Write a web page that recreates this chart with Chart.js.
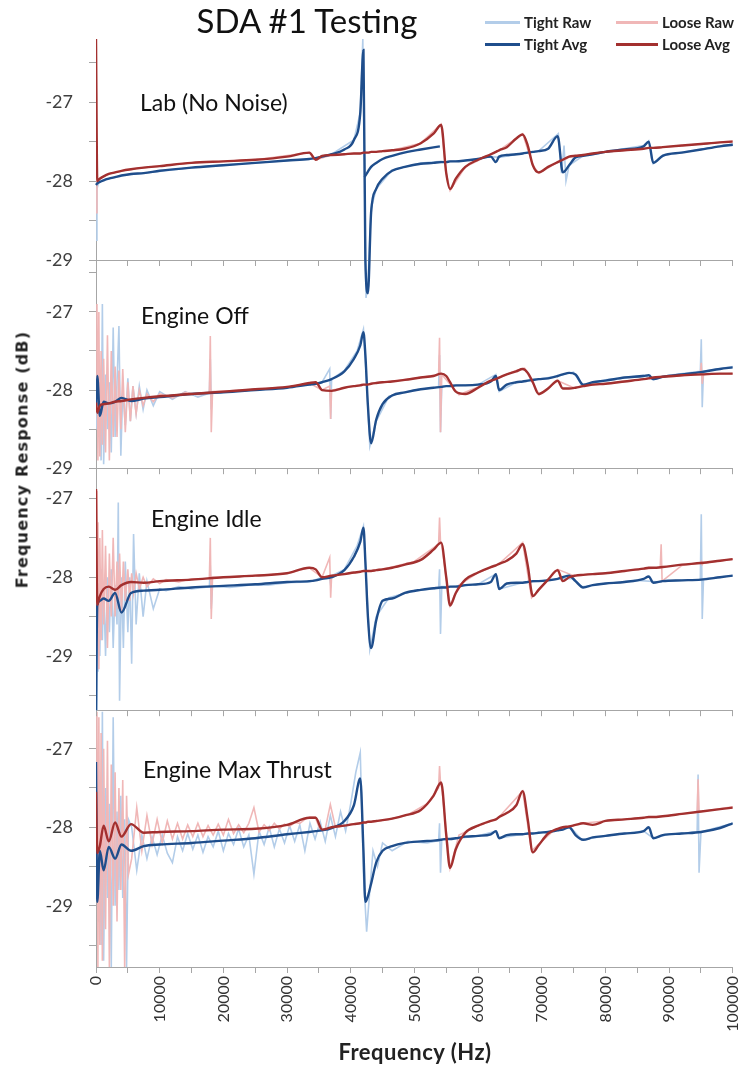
<!DOCTYPE html>
<html>
<head>
<meta charset="utf-8">
<script src="https://cdn.jsdelivr.net/npm/chart.js@4.4.0/dist/chart.umd.min.js"></script>
<style>
  body { margin: 0; background: #fff; }
  #page { position: relative; width: 751px; height: 1069px; overflow: hidden; font-family: Lato, sans-serif; color: #111; }
  canvas.panel { position: absolute; left: 0; }
  #title { position: absolute; left: 107px; width: 400px; top: 0px; text-align: center; font-size: 33px; }
  .leg { position: absolute; font-weight: bold; font-size: 15px; color: #222; display: flex; align-items: center; height: 16px; white-space: nowrap; }
  .leg span { display: inline-block; height: 3px; margin-right: 4px; }
  .plabel { position: absolute; font-size: 23px; color: #111; white-space: nowrap; }
  #ytitle { position: absolute; left: -128px; top: 450px; width: 300px; text-align: center; transform: rotate(-90deg);
            font-family: "DejaVu Sans", sans-serif; font-weight: bold; font-size: 16px; letter-spacing: 1.2px; color: #222; }
  #xtitle { position: absolute; left: 215px; width: 400px; top: 1038px; text-align: center; font-weight: bold; font-size: 22px; letter-spacing: 0.5px; color: #222; }
</style>
</head>
<body>
<div id="page">
  <canvas id="p4" class="panel"></canvas>
  <canvas id="p3" class="panel"></canvas>
  <canvas id="p2" class="panel"></canvas>
  <canvas id="p1" class="panel"></canvas>
  <div id="title">SDA #1 Testing</div>
  <div class="leg" style="left:485px;top:14px"><span style="width:35px;background:#b3cde9"></span>Tight Raw</div>
  <div class="leg" style="left:616px;top:14px"><span style="width:42px;background:#f0b7b7"></span>Loose Raw</div>
  <div class="leg" style="left:485px;top:36px"><span style="width:35px;background:#1f4e8c"></span>Tight Avg</div>
  <div class="leg" style="left:616px;top:36px"><span style="width:42px;background:#a3302f"></span>Loose Avg</div>
  <div class="plabel" style="left:140px;top:88px">Lab (No Noise)</div>
  <div class="plabel" style="left:141px;top:301px">Engine Off</div>
  <div class="plabel" style="left:151px;top:504px">Engine Idle</div>
  <div class="plabel" style="left:143px;top:755px">Engine Max Thrust</div>
  <div id="ytitle">Frequency Response (dB)</div>
  <div id="xtitle">Frequency (Hz)</div>
</div>
<script>
// frequency grid shared by all the averaged curves (Hz)
const avgFreq = [0, 200, 600, 1200, 2000, 3000, 4000, 5500, 7500, 10000,
  15000, 20000, 25000, 30000, 33500, 34500, 35500, 37000, 39000, 40500,
  41500, 42000, 42300, 42700, 43200, 44000, 45000, 46500, 48500, 51000,
  53000, 54200, 55000, 55600, 56500, 58000, 60000, 62000, 62800, 63300,
  64500, 66000, 67000, 67800, 68600, 69500, 71000, 72500, 73300, 74300,
  75300, 76500, 78000, 80000, 83000, 86000, 86800, 87500, 89000, 92000,
  95000, 98000, 100000];

// Lab (No Noise)
const labLooseAvg = [-26.2, -28.0, -27.97, -27.94, -27.91, -27.89, -27.87, -27.85, -27.83, -27.81,
  -27.77, -27.75, -27.73, -27.69, -27.64, -27.73, -27.68, -27.67, -27.66, -27.65,
  -27.65, -27.64, -27.64, -27.64, -27.63, -27.63, -27.62, -27.61, -27.59, -27.52,
  -27.4, -27.29, -27.9, -28.1, -27.97, -27.82, -27.73, -27.66, -27.63, -27.61,
  -27.57, -27.46, -27.41, -27.55, -27.8, -27.89, -27.82, -27.76, -27.73, -27.69,
  -27.68, -27.67, -27.65, -27.63, -27.61, -27.59, -27.58, -27.58, -27.57, -27.55,
  -27.53, -27.51, -27.5];
const labTightAvg = [-28.05, -28.03, -28.01, -27.99, -27.97, -27.95, -27.93, -27.91, -27.9, -27.87,
  -27.83, -27.8, -27.77, -27.74, -27.72, -27.71, -27.69, -27.66, -27.6, -27.48,
  -27.14, -26.34, -29.0, -29.42, -28.4, -28.1, -27.97, -27.87, -27.82, -27.78,
  -27.77, -27.76, -27.76, -27.75, -27.75, -27.74, -27.72, -27.69, -27.76, -27.69,
  -27.67, -27.66, -27.65, -27.64, -27.63, -27.62, -27.59, -27.43, -27.89, -27.8,
  -27.7, -27.68, -27.66, -27.63, -27.6, -27.56, -27.5, -27.77, -27.68, -27.64,
  -27.6, -27.56, -27.54];
const labBranchFreq = [42180, 42700, 43200, 44000, 45000, 46500, 48900, 51000, 54000];
const labTightBranch = [-27.95, -27.88, -27.82, -27.77, -27.72, -27.68, -27.63, -27.6, -27.56];
const labRawFreq = [0, 150, 400, 1000, 2000, 4000, 7500, 15000, 25000, 33500,
  34500, 37000, 40500, 41500, 41900, 42400, 42700, 43200, 44000, 46500,
  51000, 54200, 55000, 55600, 58000, 62000, 63300, 67000, 68600, 69500,
  72600, 73100, 73500, 73800, 74300, 76500, 80000, 86000, 86800, 87500,
  89000, 95000, 100000];
const labTightRaw = [-28.75, -28.1, -28.02, -27.99, -27.97, -27.93, -27.9, -27.83, -27.77, -27.72,
  -27.71, -27.66, -27.48, -27.13, -26.2, -29.48, -29.3, -28.35, -28.1, -27.86,
  -27.77, -27.75, -27.76, -27.75, -27.74, -27.69, -27.7, -27.65, -27.63, -27.62,
  -27.4, -27.9, -27.55, -28.0, -27.8, -27.68, -27.63, -27.55, -27.49, -27.78,
  -27.67, -27.6, -27.53];
const labLooseRaw = [-28.4, -27.99, -27.97, -27.95, -27.91, -27.87, -27.83, -27.77, -27.73, -27.64,
  -27.73, -27.67, -27.65, -27.65, -27.64, -27.64, -27.64, -27.63, -27.63, -27.61,
  -27.52, -27.28, -27.9, -28.12, -27.82, -27.66, -27.61, -27.4, -27.8, -27.9,
  -27.76, -27.74, -27.73, -27.72, -27.69, -27.67, -27.63, -27.59, -27.58, -27.58,
  -27.57, -27.53, -27.49];

// Engine Off
const offTightAvg = [-28.2, -27.82, -28.33, -28.15, -28.17, -28.15, -28.1, -28.14, -28.11, -28.09,
  -28.05, -28.03, -28.0, -27.97, -27.93, -27.92, -27.9, -27.86, -27.76, -27.6,
  -27.43, -27.26, -27.55, -28.2, -28.68, -28.38, -28.18, -28.07, -28.03, -27.99,
  -27.97, -27.96, -27.95, -27.95, -27.94, -27.94, -27.93, -27.89, -27.82, -28.0,
  -27.93, -27.9, -27.89, -27.88, -27.87, -27.86, -27.85, -27.82, -27.8, -27.78,
  -27.8, -27.93, -27.9, -27.88, -27.84, -27.82, -27.81, -27.86, -27.83, -27.8,
  -27.77, -27.73, -27.71];
const offLooseAvg = [-28.16, -28.29, -28.2, -28.18, -28.17, -28.15, -28.14, -28.12, -28.1, -28.08,
  -28.05, -28.02, -27.99, -27.96, -27.91, -27.9, -28.0, -28.01, -27.97, -27.95,
  -27.94, -27.93, -27.93, -27.93, -27.92, -27.91, -27.9, -27.89, -27.87, -27.84,
  -27.82, -27.79, -27.82, -27.9, -28.02, -28.05, -27.97, -27.88, -27.86, -27.84,
  -27.8, -27.76, -27.73, -27.78, -27.9, -28.05, -27.98, -27.88, -27.98, -27.98,
  -27.97, -27.95, -27.93, -27.92, -27.89, -27.86, -27.85, -27.84, -27.83, -27.81,
  -27.8, -27.79, -27.79];
const offRawFreq = [0, 150, 300, 450, 600, 800, 1000, 1200, 1500, 1800,
  2100, 2400, 2700, 3000, 3300, 3600, 3900, 4200, 4600, 5000,
  5400, 5800, 6300, 6800, 7400, 8000, 9000, 10000, 12000, 14000,
  16000, 17800, 17950, 18100, 18300, 21000, 25000, 30000, 33500, 35500,
  36700, 36850, 37000, 39000, 41000, 42000, 42500, 43000, 44000, 46000,
  50000, 53800, 53950, 54100, 54300, 57000, 60000, 62800, 63300, 66000,
  67300, 69600, 72500, 75000, 76300, 80000, 86000, 87500, 90000, 94900,
  95050, 95200, 95400, 100000];
const offTightRaw = [-28.2, -28.5, -27.9, -28.6, -28.0, -28.9, -26.9, -28.95, -27.8, -28.5,
  -27.9, -28.8, -27.2, -28.6, -27.9, -27.18, -28.84, -28.0, -28.45, -27.85,
  -28.4, -27.95, -28.3, -27.95, -28.25, -28.0, -28.2, -28.02, -28.12, -28.02,
  -28.09, -28.04, -27.6, -28.25, -28.03, -28.02, -28.0, -27.96, -27.93, -27.9,
  -27.73, -28.37, -27.86, -27.75, -27.5, -27.22, -27.9, -28.72, -28.4, -28.08,
  -28.0, -27.96, -27.55, -28.54, -27.95, -27.94, -27.93, -27.8, -28.02, -27.9,
  -27.89, -27.86, -27.82, -27.77, -27.94, -27.87, -27.81, -27.87, -27.81, -27.76,
  -27.35, -28.22, -27.76, -27.7];
const offLooseRaw = [-28.16, -26.9, -28.9, -27.0, -28.85, -27.5, -28.7, -27.6, -28.8, -27.3,
  -28.9, -27.5, -28.6, -27.7, -28.6, -27.75, -28.5, -27.73, -28.54, -27.9,
  -28.4, -27.95, -28.3, -28.0, -28.2, -28.05, -28.15, -28.05, -28.1, -28.03,
  -28.06, -28.04, -27.31, -28.54, -28.02, -28.01, -27.99, -27.96, -27.91, -28.0,
  -27.95, -28.37, -28.0, -27.97, -27.94, -27.93, -27.93, -27.92, -27.91, -27.89,
  -27.85, -27.8, -27.33, -28.54, -27.8, -28.06, -27.96, -27.86, -27.84, -27.75,
  -27.72, -28.06, -27.88, -27.97, -27.95, -27.92, -27.86, -27.84, -27.83, -27.8,
  -27.65, -27.92, -27.8, -27.79];

// Engine Idle
const idleTightAvg = [-29.7, -28.36, -28.3, -28.27, -28.3, -28.2, -28.45, -28.2, -28.17, -28.16,
  -28.13, -28.11, -28.09, -28.06, -28.05, -28.04, -28.02, -28.0, -27.91, -27.74,
  -27.55, -27.37, -27.8, -28.5, -28.9, -28.55, -28.3, -28.27, -28.2, -28.16,
  -28.14, -28.13, -28.13, -28.12, -28.12, -28.1, -28.09, -28.06, -27.96, -28.15,
  -28.08, -28.07, -28.07, -28.06, -28.05, -28.05, -28.04, -28.02, -28.0, -27.98,
  -28.05, -28.13, -28.1, -28.08, -28.06, -28.02, -27.99, -28.07, -28.05, -28.04,
  -28.03, -28.0, -27.98];
const idleLooseAvg = [-26.88, -28.35, -28.24, -28.15, -28.12, -28.16, -28.1, -28.06, -28.07, -28.05,
  -28.03, -28.0, -27.98, -27.95, -27.88, -27.9, -28.0, -27.98, -27.96, -27.94,
  -27.93, -27.92, -27.92, -27.92, -27.92, -27.91, -27.9, -27.88, -27.84, -27.78,
  -27.65, -27.56, -28.0, -28.36, -28.2, -28.03, -27.94, -27.87, -27.85, -27.83,
  -27.79, -27.7, -27.58, -27.85, -28.24, -28.16, -28.03, -27.91, -28.05, -28.0,
  -27.98, -27.97, -27.96, -27.95, -27.92, -27.89, -27.88, -27.88, -27.87, -27.84,
  -27.82, -27.79, -27.77];
const idleRawFreq = [0, 150, 300, 450, 600, 800, 1000, 1200, 1500, 1800,
  2100, 2400, 2700, 3000, 3300, 3500, 3700, 4000, 4300, 4600,
  5000, 5300, 5600, 5900, 6300, 6800, 7400, 8000, 9000, 10000,
  11000, 13000, 15000, 17800, 17950, 18100, 18300, 21000, 24000, 27000,
  30000, 33500, 35500, 36700, 36850, 37000, 39000, 41000, 42000, 42500,
  43000, 44000, 46000, 50000, 53800, 53950, 54100, 54300, 55600, 57000,
  60000, 62800, 63300, 67000, 68400, 72500, 75000, 76300, 80000, 85000,
  88600, 88750, 88900, 92000, 94900, 95050, 95200, 95400, 100000];
const idleTightRaw = [-29.7, -28.3, -29.2, -28.0, -29.0, -27.9, -28.8, -28.1, -29.0, -28.0,
  -28.7, -27.9, -28.9, -28.1, -28.6, -27.05, -29.57, -28.0, -28.9, -27.8,
  -28.7, -28.0, -29.1, -27.45, -28.6, -27.95, -28.5, -28.05, -28.4, -28.15,
  -28.17, -28.12, -28.15, -28.12, -27.85, -28.4, -28.11, -28.13, -28.1, -28.1,
  -28.07, -28.06, -28.0, -28.0, -28.1, -27.98, -27.9, -27.6, -27.35, -28.1,
  -28.92, -28.5, -28.26, -28.17, -28.14, -27.9, -28.72, -28.12, -28.12, -28.11,
  -28.09, -27.96, -28.15, -28.07, -28.06, -28.02, -28.02, -28.12, -28.08, -28.04,
  -28.06, -28.06, -28.05, -28.04, -28.03, -27.2, -28.53, -28.02, -27.98];
const idleLooseRaw = [-26.9, -28.9, -27.3, -29.17, -27.5, -28.8, -27.4, -28.6, -27.6, -28.9,
  -27.7, -28.5, -27.5, -28.5, -27.8, -28.4, -27.7, -28.45, -27.8, -28.3,
  -27.9, -28.3, -27.95, -28.2, -27.95, -28.15, -28.0, -28.12, -28.02, -28.08,
  -28.03, -28.06, -28.02, -28.02, -27.5, -28.53, -28.0, -28.0, -27.98, -27.97,
  -27.95, -27.88, -28.0, -27.75, -28.26, -27.98, -27.96, -27.94, -27.92, -27.92,
  -27.92, -27.91, -27.88, -27.8, -27.58, -27.24, -27.56, -27.6, -28.36, -28.1,
  -27.94, -27.85, -27.83, -27.56, -28.26, -27.9, -27.98, -27.97, -27.95, -27.9,
  -27.88, -27.58, -28.05, -27.85, -27.82, -27.8, -27.84, -27.82, -27.77];

// Engine Max Thrust
const maxTightAvg = [-27.17, -28.95, -28.3, -28.55, -28.25, -28.4, -28.22, -28.3, -28.24, -28.22,
  -28.2, -28.17, -28.14, -28.09, -28.06, -28.05, -28.04, -28.01, -27.92, -27.72,
  -27.38, -28.3, -28.95, -28.88, -28.72, -28.45, -28.3, -28.24, -28.2, -28.18,
  -28.17, -28.16, -28.15, -28.15, -28.14, -28.12, -28.11, -28.09, -28.05, -28.14,
  -28.1, -28.09, -28.09, -28.08, -28.08, -28.07, -28.06, -28.04, -28.03, -28.0,
  -28.1, -28.16, -28.13, -28.11, -28.08, -28.05, -28.0, -28.14, -28.1, -28.08,
  -28.06, -28.01, -27.95];
const maxLooseAvg = [-27.55, -28.33, -28.24, -27.98, -28.18, -27.94, -28.12, -27.96, -28.07, -28.06,
  -28.05, -28.03, -28.02, -27.97, -27.88, -27.88, -28.03, -28.0, -27.98, -27.96,
  -27.95, -27.94, -27.94, -27.93, -27.93, -27.92, -27.91, -27.89, -27.85, -27.78,
  -27.6, -27.43, -28.1, -28.52, -28.28, -28.07, -27.98, -27.92, -27.9, -27.87,
  -27.82, -27.72, -27.54, -27.9, -28.32, -28.23, -28.08, -28.02, -28.0, -27.99,
  -27.97, -27.95, -27.97, -27.92, -27.9, -27.88, -27.87, -27.87, -27.86, -27.83,
  -27.8, -27.77, -27.75];
const maxRawFreq = [0, 150, 300, 450, 600, 800, 1000, 1200, 1500, 1800,
  2100, 2400, 2700, 3000, 3300, 3600, 3900, 4200, 4500, 4800,
  5100,
  5600, 6400, 7200, 8000, 8800, 9600, 10400, 11200, 12000, 12800,
  13600, 14400, 15200, 16000, 16800, 17600, 18400, 19200, 20000, 20800,
  21600, 22400, 23200, 24000, 24800, 25600, 26400, 27200, 28000, 28800,
  29600, 30400, 31200, 32000, 32800, 33600, 34400, 35200, 36000, 36800,
  37600, 38400, 39200, 40000,
  40800, 41500, 42000, 42500, 43000, 43500, 44200, 45000, 46500, 49000,
  52000, 53800, 53950, 54100, 54300, 55600, 57000, 60000, 62800, 63300,
  67000, 68400, 72000, 74500, 76300, 80000, 86000, 87500, 90000, 94400,
  94550, 94700, 95000, 100000];
const maxTightRaw = [-27.2, -28.9, -27.6, -29.2, -27.4, -29.5, -26.5, -29.7, -27.5, -28.9,
  -27.7, -29.78, -26.6, -29.0, -27.8, -28.8, -27.6, -28.9, -27.9, -29.78,
  -27.9,
  -28.0, -28.55, -28.1, -28.4, -28.12, -28.35, -28.1, -28.33, -28.45, -28.12,
  -28.3, -28.08, -28.28, -28.1, -28.32, -28.12, -28.25, -28.05, -28.3, -28.08,
  -28.22, -28.02, -28.25, -28.1, -28.6, -28.05, -28.22, -28.0, -28.25, -28.02,
  -28.2, -27.98, -28.18, -27.97, -28.3, -27.95, -28.15, -27.93, -28.18, -27.85,
  -28.12, -27.8, -28.05, -27.7,
  -27.3, -27.05, -28.6, -29.33, -28.8, -28.3, -28.5, -28.2, -28.3, -28.18,
  -28.2, -28.17, -27.95, -28.58, -28.15, -28.15, -28.14, -28.11, -28.05, -28.14,
  -28.09, -28.08, -28.05, -28.0, -28.16, -28.11, -28.05, -28.14, -28.09, -28.06,
  -27.33, -28.58, -28.06, -27.95];
const maxLooseRaw = [-27.55, -26.5, -29.78, -26.6, -29.5, -26.8, -29.7, -27.0, -29.3, -26.9,
  -29.78, -27.2, -29.0, -27.3, -29.2, -27.5, -28.8, -27.4, -29.78, -27.6,
  -28.6,
  -28.4, -27.75, -28.3, -27.85, -28.22, -27.9, -28.2, -27.92, -28.15, -27.95,
  -28.15, -27.97, -28.12, -27.95, -28.12, -27.98, -28.1, -27.96, -28.1, -27.9,
  -28.08, -27.97, -28.07, -27.95, -27.75, -28.06, -27.97, -28.04, -27.95, -28.02,
  -27.96, -27.99, -27.94, -27.95, -27.9, -27.87, -27.87, -28.03, -28.02, -27.71,
  -28.0, -27.99, -27.98, -27.96,
  -27.96, -27.95, -27.94, -27.94, -27.93, -27.93, -27.92, -27.91, -27.89, -27.84,
  -27.7, -27.5, -27.22, -27.44, -27.5, -28.52, -28.1, -27.98, -27.9, -27.87,
  -27.54, -28.3, -28.03, -27.99, -27.95, -27.92, -27.88, -27.87, -27.85, -27.81,
  -27.39, -27.81, -27.8, -27.74];

const TIGHT_RAW = '#b3cde9';
const LOOSE_RAW = '#f0b7b7';
const TIGHT_AVG = '#1f4e8c';
const LOOSE_AVG = '#a3302f';
const AXIS = '#a6a6a6';
const PLOT_LEFT = 96, PLOT_RIGHT = 733;

function pts(xs, ys) {
  return xs.map((x, i) => ({ x: x, y: ys[i] }));
}

function buildConfig(p) {
  const datasets = [
    { label: 'Loose Avg', data: pts(avgFreq, p.looseAvg), borderColor: LOOSE_AVG, borderWidth: 2.4, order: 1, cubicInterpolationMode: 'monotone' },
    { label: 'Tight Avg', data: pts(avgFreq, p.tightAvg), borderColor: TIGHT_AVG, borderWidth: 2.4, order: 2, cubicInterpolationMode: 'monotone', clip: p.clip },
    { label: 'Loose Raw', data: pts(p.rawFreq, p.looseRaw), borderColor: LOOSE_RAW, borderWidth: 1.6, order: 3 },
    { label: 'Tight Raw', data: pts(p.rawFreq, p.tightRaw), borderColor: TIGHT_RAW, borderWidth: 1.6, order: 4, clip: p.clip }
  ];
  if (p.branch) {
    datasets.push({ label: 'Tight Avg', data: pts(labBranchFreq, p.branch), borderColor: TIGHT_AVG, borderWidth: 2.4, order: 2, cubicInterpolationMode: 'monotone' });
  }
  return {
    type: 'line',
    data: { datasets: datasets },
    options: {
      responsive: false,
      maintainAspectRatio: false,
      animation: false,
      events: [],
      layout: { padding: { left: 0, right: 18, top: p.padTop, bottom: p.padBottom } },
      plugins: { legend: { display: false }, tooltip: { enabled: false } },
      elements: { point: { radius: 0 }, line: { tension: 0, fill: false } },
      scales: {
        x: {
          type: 'linear', min: 0, max: 100000,
          border: { color: AXIS },
          grid: { drawOnChartArea: false, tickLength: 6, color: AXIS },
          ticks: {
            stepSize: 5000, autoSkip: false, minRotation: 90, maxRotation: 90, padding: 3,
            color: '#333', font: { family: 'Lato', size: 16 },
            callback: (v) => (p.showX && v % 10000 === 0) ? String(v) : ''
          },
          afterFit: (s) => { s.height = p.xh; }
        },
        y: {
          type: 'linear', min: p.min, max: p.max,
          border: { color: AXIS },
          grid: { drawOnChartArea: false, tickLength: 7, color: AXIS },
          ticks: {
            stepSize: 0.5, includeBounds: false, padding: 16,
            color: '#404040', font: { family: 'Lato', size: 18 },
            callback: (v) => Number.isInteger(v) ? String(v) : ''
          },
          afterFit: (s) => { s.width = PLOT_LEFT; }
        }
      }
    }
  };
}

function sizeCanvas(canvas, w, h) {
  canvas.width = w;
  canvas.height = h;
  canvas.style.width = w + 'px';
  canvas.style.height = h + 'px';
}

// draw once, measure where the plot area landed, then redraw so it sits on the target box
function makePanel(id, p) {
  const canvas = document.getElementById(id);
  sizeCanvas(canvas, 751, p.h);
  const probe = new Chart(canvas, buildConfig(p));
  const ca = probe.chartArea;
  const w = Math.round(751 + (PLOT_RIGHT - PLOT_LEFT) - (ca.right - ca.left));
  const h = Math.round(p.h + (p.bottom - p.top) - (ca.bottom - ca.top));
  const left = Math.round(PLOT_LEFT - ca.left);
  const top = Math.round(p.top - ca.top);
  probe.destroy();
  sizeCanvas(canvas, w, h);
  canvas.style.left = left + 'px';
  canvas.style.top = top + 'px';
  new Chart(canvas, buildConfig(p));
}

makePanel('p1', { top: 39, bottom: 260, h: 312, padTop: 39, padBottom: 40, xh: 12, min: -29, max: -26.2,
  tightAvg: labTightAvg, looseAvg: labLooseAvg, rawFreq: labRawFreq, tightRaw: labTightRaw, looseRaw: labLooseRaw,
  branch: labTightBranch, clip: false });
makePanel('p2', { top: 266, bottom: 468, h: 240, padTop: 16, padBottom: 0, xh: 12, min: -29, max: -26.41,
  tightAvg: offTightAvg, looseAvg: offLooseAvg, rawFreq: offRawFreq, tightRaw: offTightRaw, looseRaw: offLooseRaw });
makePanel('p3', { top: 472, bottom: 710, h: 270, padTop: 14, padBottom: 0, xh: 12, min: -29.69, max: -26.66,
  tightAvg: idleTightAvg, looseAvg: idleLooseAvg, rawFreq: idleRawFreq, tightRaw: idleTightRaw, looseRaw: idleLooseRaw });
makePanel('p4', { top: 712, bottom: 967, h: 341, padTop: 14, padBottom: 0, xh: 72, min: -29.78, max: -26.53, showX: true,
  tightAvg: maxTightAvg, looseAvg: maxLooseAvg, rawFreq: maxRawFreq, tightRaw: maxTightRaw, looseRaw: maxLooseRaw });
</script>
</body>
</html>
